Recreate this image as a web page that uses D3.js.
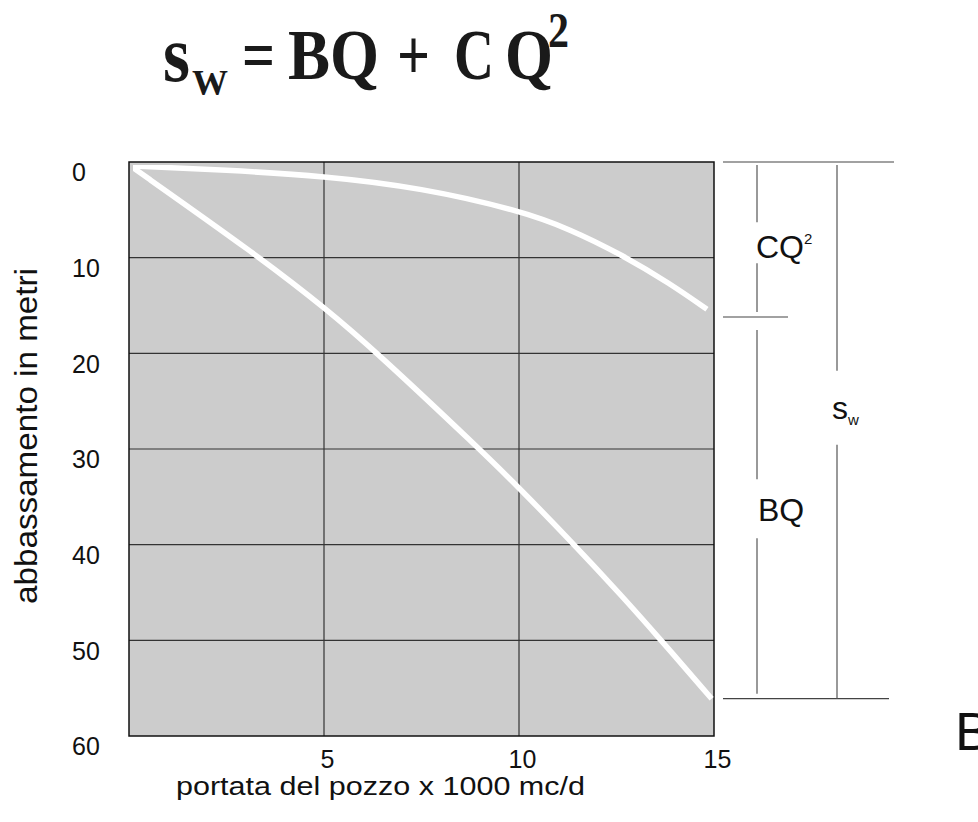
<!DOCTYPE html>
<html>
<head>
<meta charset="utf-8">
<script src="https://cdn.jsdelivr.net/npm/d3@7/dist/d3.min.js"></script>
<style>
body { margin: 0; background: #fff; }
svg text { font-family: 'Liberation Sans', Arial, sans-serif; fill: #111; }
</style>
</head>
<body>
<div id="main"></div>
<script>
// drawdown curves (Q in 1000 mc/d, s in metri)
var qTotal = [0, 3.27, 5.07, 6.35, 8.96, 9.94, 11.3, 12.67, 13.56, 14.94];
var sTotal = [0.3, 9.7, 15.4, 19.9, 29.9, 33.8, 39.5, 45.5, 49.6, 56.1];
var qLoss = [0, 2.5, 5.0, 7.5, 10.0, 11.3, 12.64, 13.87, 14.82];
var sLoss = [0.4, 0.85, 1.45, 2.7, 5.05, 7.0, 9.7, 12.7, 15.4];
var xTicks = [5, 10, 15];
var yTicks = [0, 10, 20, 30, 40, 50, 60];
var gridX = [5, 10];
var gridY = [10, 20, 30, 40, 50];
var braceLevels = [0, 16.2, 56.1];

var margin = {top: 162, left: 129, right: 264, bottom: 86};
var W = 978, H = 822;
var width = W - margin.left - margin.right,
    height = H - margin.top - margin.bottom;

var svg = d3.select('#main').append('svg')
    .attr('width', W)
    .attr('height', H);

// title  s_w = BQ + CQ^2
var titleParts = [
    {t: 's', x: 163, y: 81, fs: 80, len: 27},
    {t: 'W', x: 192, y: 95, fs: 36, len: 36},
    {t: '=', x: 242, y: 79, fs: 72, len: 33},
    {t: 'BQ', x: 288, y: 79, fs: 72, len: 91},
    {t: '+', x: 397, y: 79, fs: 72, len: 33},
    {t: 'C', x: 454, y: 79, fs: 72, len: 40},
    {t: 'Q', x: 505, y: 79, fs: 72, len: 48},
    {t: '2', x: 548, y: 47, fs: 50, len: 21}
];
svg.append('g')
    .selectAll('text')
    .data(titleParts)
    .enter()
    .append('text')
    .attr('x', d => d.x)
    .attr('y', d => d.y)
    .attr('textLength', d => d.len)
    .attr('lengthAdjust', 'spacingAndGlyphs')
    .style('font-size', d => d.fs + 'px')
    .style('font-weight', 'bold')
    .style('font-family', "'Liberation Serif', 'Times New Roman', serif")
    .style('fill', '#1a1a1a')
    .text(d => d.t);

var g = svg.append('g')
    .attr('transform', 'translate(' + margin.left + ',' + margin.top + ')');

var x = d3.scaleLinear().domain([0, 15]).range([0, width]);
var y = d3.scaleLinear().domain([0, 60]).range([0, height]);

g.append('rect')
    .attr('width', width)
    .attr('height', height)
    .attr('fill', '#cccccc');

g.selectAll('.gx')
    .data(gridX)
    .enter()
    .append('line')
    .attr('class', 'gx')
    .attr('x1', d => x(d)).attr('x2', d => x(d))
    .attr('y1', 0).attr('y2', height)
    .attr('stroke', '#333')
    .attr('stroke-width', 1.2);

g.selectAll('.gy')
    .data(gridY)
    .enter()
    .append('line')
    .attr('class', 'gy')
    .attr('x1', 0).attr('x2', width)
    .attr('y1', d => y(d)).attr('y2', d => y(d))
    .attr('stroke', '#333')
    .attr('stroke-width', 1.2);

g.append('rect')
    .attr('width', width)
    .attr('height', height)
    .attr('fill', 'none')
    .attr('stroke', '#111')
    .attr('stroke-width', 1.5);

var line = d3.line()
    .x(d => x(d[0]))
    .y(d => y(d[1]))
    .curve(d3.curveBasis);

// clip so the curve tips stay inside the frame
g.append('clipPath').attr('id', 'plotclip')
    .append('rect')
    .attr('x', 4).attr('y', 3)
    .attr('width', width - 4).attr('height', height - 3);

[[qTotal, sTotal], [qLoss, sLoss]].forEach(function(s){
    g.append('path')
        .datum(d3.zip(s[0], s[1]))
        .attr('d', line)
        .attr('clip-path', 'url(#plotclip)')
        .attr('fill', 'none')
        .attr('stroke', '#fff')
        .attr('stroke-width', 5.5);
});

// axes
var yAxis = g.append('g')
    .call(d3.axisLeft(y).tickValues(yTicks).tickSize(0))
    .attr('font-family', null)
    .attr('font-size', null);
yAxis.select('.domain').remove();
yAxis.selectAll('text')
    .attr('x', -57)
    .attr('y', 10)
    .attr('dy', '0.35em')
    .attr('text-anchor', 'start')
    .style('font-size', '25px');

var xAxis = g.append('g')
    .attr('transform', 'translate(0,' + height + ')')
    .call(d3.axisBottom(x).tickValues(xTicks).tickSize(0))
    .attr('font-family', null)
    .attr('font-size', null);
xAxis.select('.domain').remove();
xAxis.selectAll('text')
    .attr('x', 3)
    .attr('y', 23)
    .attr('dy', '0.35em')
    .style('font-size', '25px');

g.append('text')
    .attr('x', 176 - margin.left)
    .attr('y', height + 59)
    .attr('textLength', 409)
    .attr('lengthAdjust', 'spacingAndGlyphs')
    .style('font-size', '26px')
    .text('portata del pozzo x 1000 mc/d');

g.append('text')
    .attr('transform', 'translate(' + (-92) + ',' + (436 - margin.top) + ') rotate(-90)')
    .attr('text-anchor', 'middle')
    .attr('textLength', 336)
    .attr('lengthAdjust', 'spacingAndGlyphs')
    .style('font-size', '32px')
    .text('abbassamento in metri');

// brackets on the right
var ann = g.append('g');
var hLines = [
    {v: braceLevels[0], x1: width + 9, x2: width + 180},
    {v: braceLevels[1], x1: width + 9, x2: width + 74},
    {v: braceLevels[2], x1: width + 9, x2: width + 175}
];
ann.selectAll('.hl')
    .data(hLines)
    .enter()
    .append('line')
    .attr('x1', d => d.x1).attr('x2', d => d.x2)
    .attr('y1', d => y(d.v)).attr('y2', d => y(d.v))
    .attr('stroke', '#444')
    .attr('stroke-width', 1.2);

var brackets = [
    {from: braceLevels[0], to: braceLevels[1], lab: 8.8, dx: 43, tx: 42, gapA: 24, gapB: 17, padA: 3, padB: 5, kind: 'cq'},
    {from: braceLevels[1], to: braceLevels[2], lab: 36.3, dx: 43, tx: 44, gapA: 30, gapB: 29, padA: 13, padB: 5, kind: 'bq'},
    {from: braceLevels[0], to: braceLevels[2], lab: 25.7, dx: 123, tx: 118, gapA: 37, gapB: 37, padA: 3, padB: 0, kind: 'sw'}
];
brackets.forEach(function(b){
    var yc = y(b.lab);
    var segs = [[y(b.from) + b.padA, yc - b.gapA], [yc + b.gapB, y(b.to) - b.padB]];
    ann.selectAll(null)
        .data(segs)
        .enter()
        .append('line')
        .attr('x1', width + b.dx).attr('x2', width + b.dx)
        .attr('y1', d => d[0]).attr('y2', d => d[1])
        .attr('stroke', '#555')
        .attr('stroke-width', 1.2);

    var t = ann.append('text')
        .attr('x', width + b.tx)
        .attr('y', yc)
        .attr('dy', '0.36em')
        .style('font-size', '32px');
    if (b.kind === 'cq') {
        t.append('tspan').text('CQ');
        t.append('tspan').attr('dy', -14).style('font-size', '15px').text('2');
    } else if (b.kind === 'bq') {
        t.text('BQ');
    } else {
        t.append('tspan').text('s');
        t.append('tspan').attr('dy', 6).style('font-size', '15px').text('w');
    }
});

svg.append('text')
    .attr('x', 955)
    .attr('y', 750)
    .style('font-size', '54px')
    .style('font-weight', '300')
    .text('B');
</script>
</body>
</html>
